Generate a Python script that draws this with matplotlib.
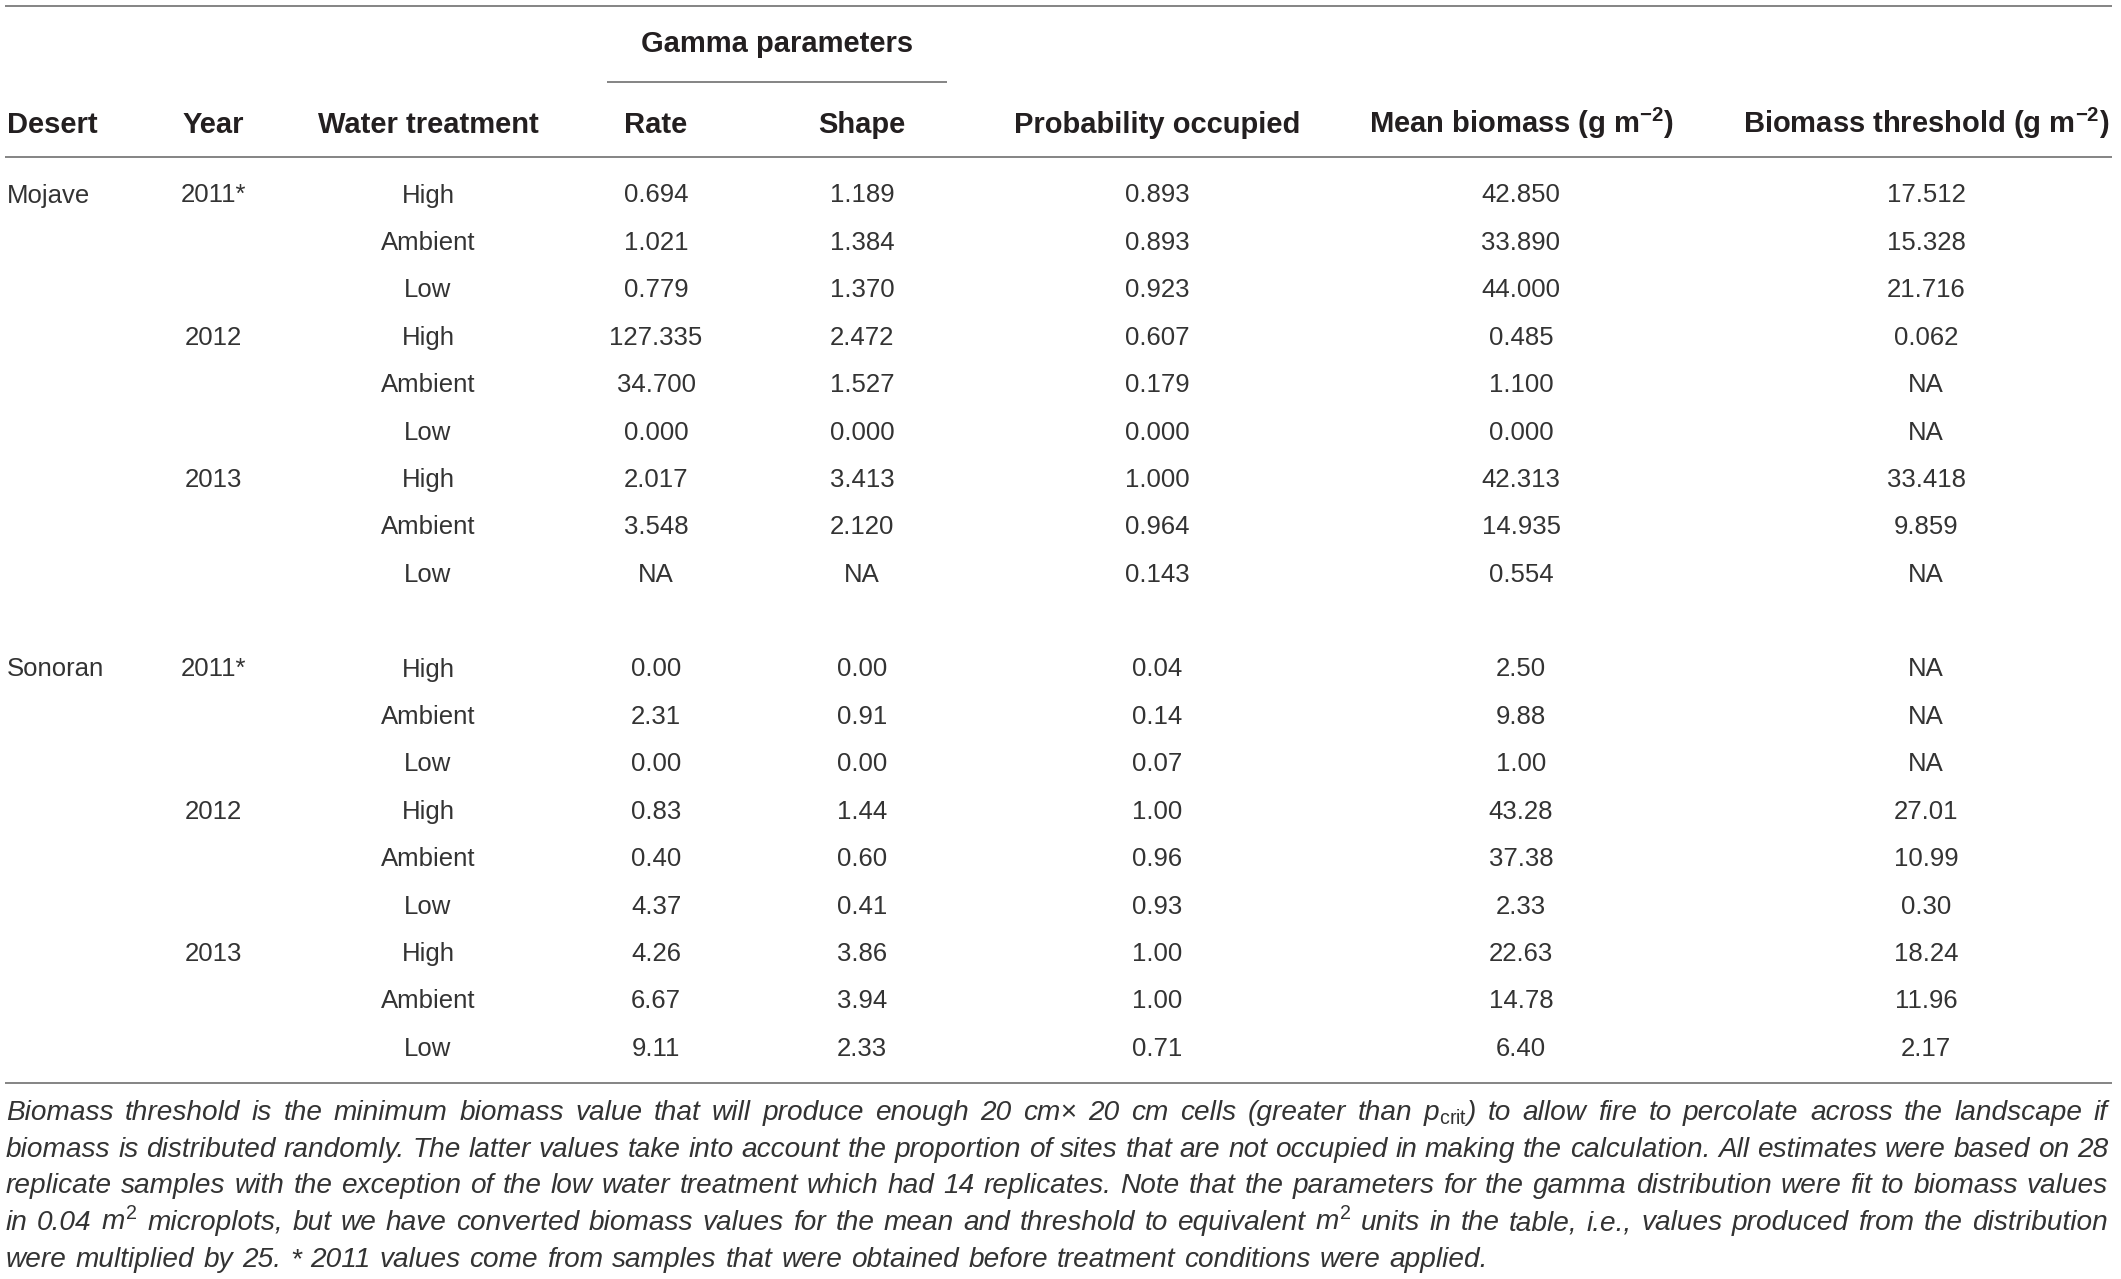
import numpy as np
import matplotlib
matplotlib.use("Agg")
import matplotlib.pyplot as plt

plt.rcParams["font.family"] = ["Liberation Sans", "DejaVu Sans"]
plt.rcParams["mathtext.fontset"] = "custom"
plt.rcParams["mathtext.rm"] = "Liberation Sans"
plt.rcParams["mathtext.it"] = "Liberation Sans:italic"
plt.rcParams["mathtext.bf"] = "Liberation Sans:bold"

# ---- table data ----
deserts = ["Mojave", "Sonoran"]
years = ["2011*", "2012", "2013"]
treatments = ["High", "Ambient", "Low"]
decimals = [3, 2]

mojave_rate = [0.694, 1.021, 0.779, 127.335, 34.700, 0.000, 2.017, 3.548, np.nan]
mojave_shape = [1.189, 1.384, 1.370, 2.472, 1.527, 0.000, 3.413, 2.120, np.nan]
mojave_prob = [0.893, 0.893, 0.923, 0.607, 0.179, 0.000, 1.000, 0.964, 0.143]
mojave_mean = [42.850, 33.890, 44.000, 0.485, 1.100, 0.000, 42.313, 14.935, 0.554]
mojave_thresh = [17.512, 15.328, 21.716, 0.062, np.nan, np.nan, 33.418, 9.859, np.nan]

sonoran_rate = [0.00, 2.31, 0.00, 0.83, 0.40, 4.37, 4.26, 6.67, 9.11]
sonoran_shape = [0.00, 0.91, 0.00, 1.44, 0.60, 0.41, 3.86, 3.94, 2.33]
sonoran_prob = [0.04, 0.14, 0.07, 1.00, 0.96, 0.93, 1.00, 1.00, 0.71]
sonoran_mean = [2.50, 9.88, 1.00, 43.28, 37.38, 2.33, 22.63, 14.78, 6.40]
sonoran_thresh = [np.nan, np.nan, np.nan, 27.01, 10.99, 0.30, 18.24, 11.96, 2.17]

headers = ["Desert", "Year", "Water treatment", "Rate", "Shape",
           "Probability occupied",
           r"Mean biomass (g m$^{\mathbf{-2}}$)",
           r"Biomass threshold (g m$^{\mathbf{-2}}$)"]
group_header = "Gamma parameters"

caption = [
    r"Biomass threshold is the minimum biomass value that will produce enough 20 cm× 20 cm cells (greater than $p_{\mathrm{crit}}$) to allow fire to percolate across the landscape if",
    "biomass is distributed randomly. The latter values take into account the proportion of sites that are not occupied in making the calculation. All estimates were based on 28",
    "replicate samples with the exception of the low water treatment which had 14 replicates. Note that the parameters for the gamma distribution were fit to biomass values",
    r"in 0.04 $\mathit{m}^{2}$ microplots, but we have converted biomass values for the mean and threshold to equivalent $\mathit{m}^{2}$ units in the table, i.e., values produced from the distribution",
    "were multiplied by 25. * 2011 values come from samples that were obtained before treatment conditions were applied.",
]

# ---- layout ----
W, H = 2121, 1279
fig = plt.figure(figsize=(W / 100, H / 100), dpi=100)
ax = fig.add_axes([0, 0, 1, 1])
ax.set_xlim(0, W)
ax.set_ylim(H, 0)
ax.axis("off")

ink = "#231f20"
body_ink = "#333333"
rule = "#7b7b7b"
col_x = [7, 213, 428, 656, 862, 1157, 1521, 1926]
row0, row_h = 195, 47.4
body_fs, head_fs = 18.5, 21

# rules
for y in (6, 157, 1083):
    ax.plot([5, 2112], [y, y], color=rule, lw=1.3, solid_capstyle="butt")
ax.plot([607, 947], [82, 82], color=rule, lw=1.3, solid_capstyle="butt")

# headers
ax.text((607 + 947) / 2, 52, group_header, ha="center", va="baseline",
        fontsize=head_fs, fontweight="bold", color=ink)
for i, h in enumerate(headers):
    ax.text(col_x[i], 133, h, ha="left" if i == 0 else "center", va="baseline",
            fontsize=head_fs, fontweight="bold", color=ink)

# body
blocks = [
    (mojave_rate, mojave_shape, mojave_prob, mojave_mean, mojave_thresh),
    (sonoran_rate, sonoran_shape, sonoran_prob, sonoran_mean, sonoran_thresh),
]


def fmt(v, d):
    return "NA" if np.isnan(v) else f"{v:.{d}f}"


for b, (desert, cols) in enumerate(zip(deserts, blocks)):
    base = b * (len(years) * len(treatments) + 1)
    for r in range(len(years) * len(treatments)):
        y = row0 + (base + r) * row_h + 7.5
        if r == 0:
            ax.text(col_x[0], y, desert, ha="left", va="baseline",
                    fontsize=body_fs, color=body_ink)
        if r % 3 == 0:
            ax.text(col_x[1], y, years[r // 3], ha="center", va="baseline",
                    fontsize=body_fs, color=body_ink)
        ax.text(col_x[2], y, treatments[r % 3], ha="center", va="baseline",
                fontsize=body_fs, color=body_ink)
        for c, vals in enumerate(cols):
            ax.text(col_x[3 + c], y, fmt(vals[r], decimals[b]), ha="center",
                    va="baseline", fontsize=body_fs, color=body_ink)

# caption: size chosen so the text fills the width, then justified
renderer = fig.canvas.get_renderer()
left, right, last_end = 6, 2108, 1488
probe = 16.0


def line_width(line, fs):
    t = ax.text(0, 0, line, fontsize=fs, style="italic")
    w = t.get_window_extent(renderer).width
    t.remove()
    return w


full = max(line_width(l, probe) for l in caption[:-1])
last = line_width(caption[-1], probe)
cap_fs = probe * min((right - left) / full, (last_end - left) / last)

for k, line in enumerate(caption):
    y = 1120 + k * 36.7
    words = line.split(" ")
    arts = [ax.text(0, y, w, ha="left", va="baseline", fontsize=cap_fs,
                    style="italic", color=body_ink) for w in words]
    widths = [a.get_window_extent(renderer).width for a in arts]
    if k < len(caption) - 1:
        gap = (right - left - sum(widths)) / (len(words) - 1)
    else:
        gap = (last_end - left - sum(widths)) / (len(words) - 1)
    x = left
    for a, w in zip(arts, widths):
        a.set_x(x)
        x += w + gap

fig.savefig("out.png", dpi=100)
